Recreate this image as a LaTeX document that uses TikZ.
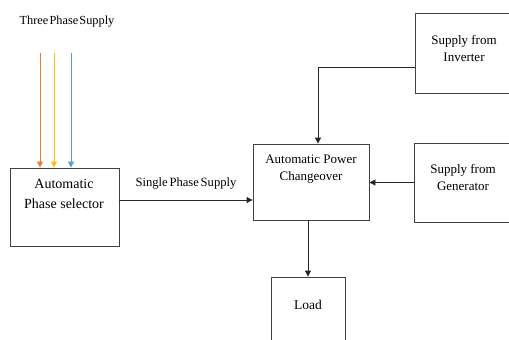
\documentclass[tikz,border=0pt]{standalone}
\usepackage{fontspec}
\setmainfont{Liberation Serif}
\usetikzlibrary{arrows.meta}
\definecolor{ph1}{RGB}{237,125,49}
\definecolor{ph2}{RGB}{255,192,0}
\definecolor{ph3}{RGB}{91,155,213}
\tikzset{
  blk/.style={draw=black!75, line width=0.8pt, rectangle, inner sep=0pt},
  txt/.style={inner sep=0pt, align=center, font=\fontsize{13}{17}\selectfont},
  conn/.style={draw=black!85, line width=0.8pt, -{Triangle[width=6pt,length=6pt]}},
}
\begin{document}
\begin{tikzpicture}[x=1pt,y=-1pt]
\useasboundingbox (0,0) rectangle (509,340);
\clip (0,0) rectangle (509,340);
% boxes
\node[blk, minimum width=109pt, minimum height=78pt] (sel) at (64.5,207) {};
\node[blk, minimum width=116pt, minimum height=76pt] (apc) at (311,182) {};
\node[blk, minimum width=100pt, minimum height=80pt] (inv) at (465,53) {};
\node[blk, minimum width=100pt, minimum height=79pt] (gen) at (464,182.5) {};
\node[blk, minimum width=74pt, minimum height=80pt] (load) at (308,317) {};
% texts
\node[txt, font=\fontsize{14}{20}\selectfont] (selt) at (64,194) {Automatic\\Phase selector};
\node[txt] (apct) at (311,169) {Automatic Power\\Changeover};
\node[txt] (invt) at (464,48.5) {Supply from\\Inverter};
\node[txt] (gent) at (463,177.5) {Supply from\\Generator};
\node[txt, font=\fontsize{13.5}{17}\selectfont] (loadt) at (308,305) {Load};
\node[txt, font=\fontsize{12.3}{14}\selectfont] (three) at (67,22) {\spaceskip=1.2pt\relax Three Phase Supply};
\node[txt, font=\fontsize{12.6}{14}\selectfont] (single) at (186,183) {\spaceskip=1.8pt\relax Single Phase Supply};
% three phase arrows
\coordinate (p1) at (40,53);
\coordinate (p2) at (54,53);
\coordinate (p3) at (71,53);
\draw[conn, draw=ph1, -{Triangle[width=6pt,length=6pt,fill=ph1]}] (p1) -- (p1 |- sel.north);
\draw[conn, draw=ph2, -{Triangle[width=6pt,length=6pt,fill=ph2]}] (p2) -- (p2 |- sel.north);
\draw[conn, draw=ph3, -{Triangle[width=6pt,length=6pt,fill=ph3]}] (p3) -- (p3 |- sel.north);
% connectors
\draw[conn] ([yshift=7pt]sel.east) -- ([yshift=7pt]sel.east -| apc.west);
\draw[conn] (gen.west) -- (gen.west -| apc.east);
\draw[conn] ([yshift=-14pt]inv.west) -| ([xshift=7pt]apc.north);
\draw[conn] (load.north |- apc.south) -- (load.north);
\end{tikzpicture}
\end{document}
